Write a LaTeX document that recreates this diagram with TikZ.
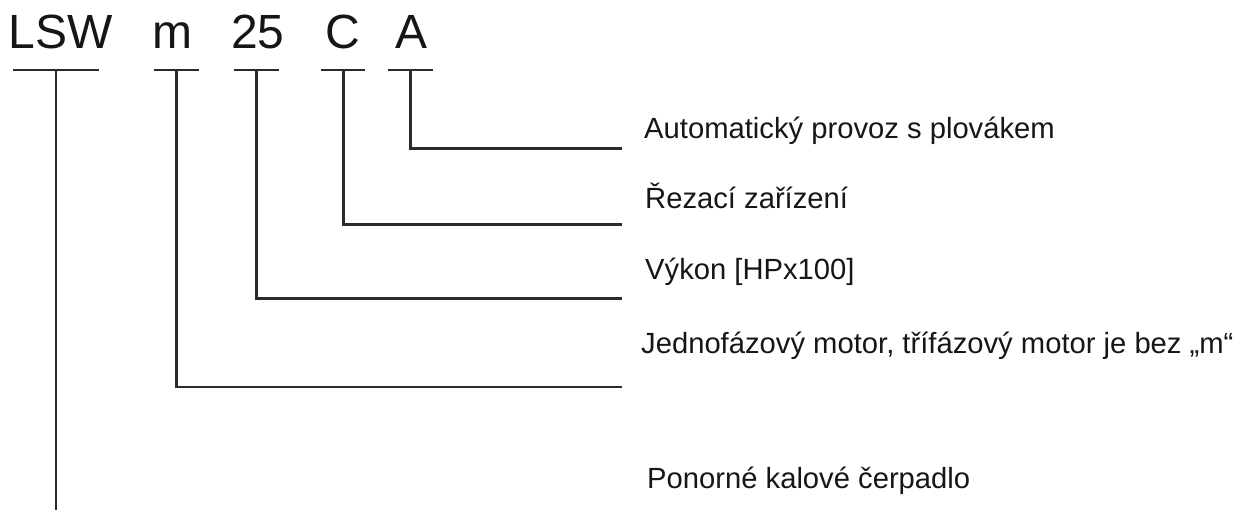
\documentclass[tikz,border=0pt]{standalone}
\usepackage{fontspec}
\setmainfont{Liberation Sans}
\definecolor{ln}{HTML}{2B2B2B}
\definecolor{tx}{HTML}{161616}
\begin{document}
\begin{tikzpicture}[x=1pt,y=-1pt,
  code/.style={font=\fontsize{48}{58}\selectfont, text=tx, inner sep=0pt, anchor=base},
  desc/.style={font=\fontsize{29.2}{36}\selectfont, text=tx, inner sep=0pt, anchor=base west},
  bar/.style={line width=2.8pt, draw=ln},
  lead/.style={line width=2.8pt, draw=ln}]
\useasboundingbox (0,0) rectangle (1240,510);
% code letters
\node[code] (LSW) at (61,49) {LSW};
\node[code] (m) at (172,49) {m};
\node[code] (n25) at (258,49) {25};
\node[code] (C) at (342.5,49) {C};
\node[code] (A) at (411.5,49) {A};
% underline coordinates
\coordinate (uLSWa) at (13,70);  \coordinate (uLSWb) at (98.5,70);  \coordinate (tLSW) at (56,70);
\coordinate (uma) at (154,70);   \coordinate (umb) at (199,70);     \coordinate (tm) at (176.7,70);
\coordinate (u25a) at (234,70);  \coordinate (u25b) at (279,70);    \coordinate (t25) at (256.7,70);
\coordinate (uCa) at (320.7,70); \coordinate (uCb) at (365.3,70);   \coordinate (tC) at (343.2,70);
\coordinate (uAa) at (388,70);   \coordinate (uAb) at (432.7,70);   \coordinate (tA) at (410.5,70);
\draw[bar] (uLSWa) -- (uLSWb);
\draw[bar] (uma) -- (umb);
\draw[bar] (u25a) -- (u25b);
\draw[bar] (uCa) -- (uCb);
\draw[bar] (uAa) -- (uAb);
% leader ends
\coordinate (eA) at (622,148.7);
\coordinate (eC) at (622,224.7);
\coordinate (e25) at (622,298.7);
\coordinate (em) at (622,387);
\coordinate (eLSW) at (56,511);
\draw[lead] (tA) |- (eA);
\draw[lead] (tC) |- (eC);
\draw[lead] (t25) |- (e25);
\draw[lead] (tm) |- (em);
\draw[lead] (tLSW) -- (eLSW);
% descriptions
\node[desc] (dA) at (644,138.5) {Automatický provoz s plovákem};
\node[desc] (dC) at (645,209) {Řezací zařízení};
\node[desc] (d25) at (645,280) {Výkon [HPx100]};
\node[desc] (dm) at (641,354) {Jednofázový motor, třífázový motor je bez „m“};
\node[desc] (dLSW) at (647,489) {Ponorné kalové čerpadlo};
\end{tikzpicture}
\end{document}
